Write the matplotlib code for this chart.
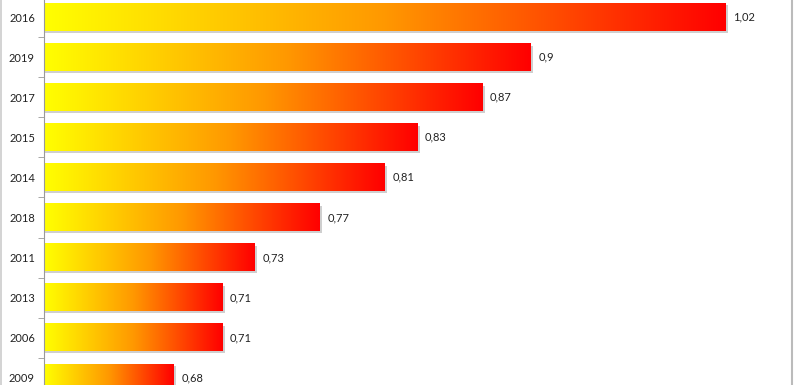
import numpy as np
import matplotlib
matplotlib.use("Agg")
import matplotlib.pyplot as plt
from matplotlib.colors import LinearSegmentedColormap
from matplotlib.patches import Rectangle
from matplotlib.lines import Line2D

# data
years = ["2016", "2019", "2017", "2015", "2014", "2018", "2011", "2013", "2006", "2009"]
values = [1.02, 0.9, 0.87, 0.83, 0.81, 0.77, 0.73, 0.71, 0.71, 0.68]
labels = ["1,02", "0,9", "0,87", "0,83", "0,81", "0,77", "0,73", "0,71", "0,71", "0,68"]

plt.rcParams['font.family'] = ['Lato', 'DejaVu Sans']

W, H = 795, 385
fig = plt.figure(figsize=(W / 100, H / 100), dpi=100)
ax = fig.add_axes([44 / W, 0, (792 - 44) / W, 1])

x0 = 0.6
cmap = LinearSegmentedColormap.from_list("yr", ["#ffff00", "#ff9800", "#ff0000"])
grad = np.linspace(0, 1, 256).reshape(1, -1)
h = 0.675

for i, (v, lab) in enumerate(zip(values, labels)):
    # soft shadow
    ax.add_patch(Rectangle((x0, i - h / 2 + 0.05), v - x0 + 0.0015, h,
                           facecolor="#b0b0b0", alpha=0.6, edgecolor="none", zorder=1))
    ax.imshow(grad, cmap=cmap, aspect="auto", extent=(x0, v, i + h / 2, i - h / 2),
              zorder=2, interpolation="bilinear")
    ax.text(v + 0.0045, i, lab, va="center", ha="left", fontsize=8, color="#222222")

ax.set_yticks(range(len(years)))
ax.set_yticklabels(years, fontsize=8, color="#222222")
ax.set_yticks(np.arange(-0.5, len(years), 1), minor=True)
ax.tick_params(axis="y", which="major", length=0, pad=6.5)
ax.tick_params(axis="y", which="minor", length=4, color="#999999")
ax.set_xticks([])

# limits last, so the ticks do not widen them
ax.set_xlim(x0, x0 + (792 - 44) / 1623)
ax.set_ylim((385 - 17) / 40.1, -17 / 40.1)

for s in ["top", "bottom"]:
    ax.spines[s].set_visible(False)
ax.spines["left"].set_color("#999999")
ax.spines["right"].set_color("#bbbbbb")
ax.spines["right"].set_linewidth(1.5)

fig.add_artist(Line2D([0.5 / W, 0.5 / W], [0, 1], color="#cccccc", lw=1.2))

fig.savefig("out.png", dpi=100)
